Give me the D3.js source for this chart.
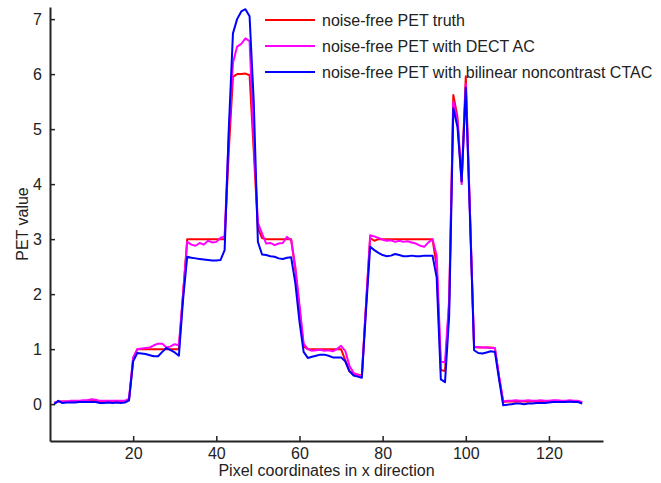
<!DOCTYPE html>
<html>
<head>
<meta charset="utf-8">
<script src="https://cdn.jsdelivr.net/npm/d3@7"></script>
<style>
  html, body { margin: 0; padding: 0; background: #fff; }
  svg { display: block; }
  text { font-family: Arial, "Liberation Sans", sans-serif; fill: #222; }
</style>
</head>
<body>
<svg id="chart" width="661" height="483"></svg>
<script>
// ---- data (pixel index 1..128) ----
const pixels = d3.range(1, 129);

const truth = [
  0.02, 0.05, 0.05, 0.05, 0.05, 0.05, 0.05, 0.05, 0.06, 0.06,
  0.06, 0.05, 0.05, 0.05, 0.05, 0.05, 0.05, 0.05, 0.07, 0.82,
  1.00, 1.00, 1.00, 1.00, 1.00, 1.00, 1.00, 1.00, 1.00, 1.00,
  1.00, 2.00, 3.00, 3.00, 3.00, 3.00, 3.00, 3.00, 3.00, 3.00,
  3.00, 3.00, 4.60, 5.95, 6.00, 6.00, 6.01, 5.98, 4.60, 3.20,
  3.02, 3.00, 3.00, 3.00, 3.00, 3.00, 3.00, 3.00, 2.45, 1.75,
  1.05, 1.00, 1.00, 1.00, 1.00, 1.00, 1.00, 1.00, 1.00, 1.00,
  0.80, 0.60, 0.55, 0.54, 0.52, 1.80, 3.02, 2.97, 3.00, 3.00,
  3.00, 3.00, 3.00, 3.00, 3.00, 3.00, 3.00, 3.00, 3.00, 3.00,
  3.00, 3.00, 2.50, 0.62, 0.60, 1.80, 5.62, 5.22, 4.05, 5.96,
  3.50, 1.04, 1.03, 1.03, 1.03, 1.03, 1.02, 0.50, 0.04, 0.05,
  0.05, 0.05, 0.05, 0.05, 0.05, 0.05, 0.05, 0.05, 0.05, 0.05,
  0.05, 0.05, 0.05, 0.05, 0.05, 0.05, 0.05, 0.03
];

const dect = [
  0.02, 0.05, 0.05, 0.05, 0.06, 0.06, 0.06, 0.07, 0.07, 0.09,
  0.08, 0.06, 0.06, 0.06, 0.06, 0.06, 0.06, 0.06, 0.10, 0.85,
  1.00, 1.01, 1.02, 1.03, 1.07, 1.10, 1.10, 1.03, 1.05, 1.09,
  1.07, 2.00, 2.95, 2.90, 2.88, 2.93, 2.90, 2.97, 2.94, 2.95,
  3.02, 3.05, 4.90, 6.20, 6.50, 6.55, 6.65, 6.60, 4.80, 3.30,
  3.10, 2.92, 2.93, 2.89, 2.92, 2.93, 3.04, 2.98, 2.50, 1.80,
  1.10, 1.00, 0.97, 0.98, 0.99, 0.97, 0.98, 0.96, 1.00, 1.06,
  0.97, 0.70, 0.57, 0.53, 0.52, 1.80, 3.07, 3.05, 3.02, 2.99,
  2.97, 2.98, 2.95, 2.97, 2.95, 2.96, 2.94, 2.92, 2.88, 2.86,
  2.94, 3.00, 2.70, 0.77, 0.76, 1.90, 5.50, 5.15, 4.00, 5.82,
  3.50, 1.04, 1.04, 1.03, 1.03, 1.02, 1.02, 0.50, 0.05, 0.06,
  0.06, 0.07, 0.06, 0.06, 0.07, 0.06, 0.06, 0.07, 0.06, 0.06,
  0.07, 0.07, 0.06, 0.06, 0.07, 0.06, 0.06, 0.04
];

const ctac = [
  0.00, 0.06, 0.02, 0.03, 0.03, 0.03, 0.04, 0.04, 0.04, 0.04,
  0.04, 0.02, 0.02, 0.03, 0.02, 0.03, 0.02, 0.03, 0.07, 0.78,
  0.93, 0.92, 0.91, 0.89, 0.87, 0.87, 0.95, 1.02, 0.98, 0.94,
  0.88, 1.90, 2.68, 2.66, 2.65, 2.64, 2.63, 2.62, 2.61, 2.61,
  2.62, 2.80, 5.00, 6.74, 7.00, 7.14, 7.18, 7.05, 5.50, 2.95,
  2.72, 2.71, 2.69, 2.68, 2.65, 2.64, 2.66, 2.67, 2.20, 1.50,
  0.95, 0.84, 0.86, 0.88, 0.90, 0.90, 0.88, 0.85, 0.85, 0.85,
  0.78, 0.60, 0.52, 0.50, 0.48, 1.70, 2.86, 2.80, 2.75, 2.71,
  2.69, 2.70, 2.73, 2.71, 2.69, 2.69, 2.70, 2.69, 2.69, 2.70,
  2.70, 2.70, 2.30, 0.45, 0.40, 1.60, 5.38, 5.04, 4.05, 5.75,
  3.40, 0.98, 0.93, 0.92, 0.94, 0.96, 0.95, 0.45, -0.02, -0.01,
  0.00, 0.01, 0.01, 0.00, 0.01, 0.01, 0.02, 0.02, 0.02, 0.03,
  0.04, 0.04, 0.04, 0.04, 0.05, 0.04, 0.04, 0.01
];

const seriesNames = [
  "noise-free PET truth",
  "noise-free PET with DECT AC",
  "noise-free PET with bilinear noncontrast CTAC"
];
const seriesColors = ["#ff0000", "#ff00ff", "#0000ff"];
const xTicks = [20, 40, 60, 80, 100, 120];
const yTicks = [0, 1, 2, 3, 4, 5, 6, 7];
const xTitle = "Pixel coordinates in x direction";
const yTitle = "PET value";

// ---- layout ----
const svg = d3.select("#chart");
const mLeft = 50, mRight = 603, mTop = 7, mBottom = 441;

const x = d3.scaleLinear().domain([0, 133]).range([mLeft, mRight]);
const y = d3.scaleLinear().domain([-0.67, 7.22]).range([mBottom, mTop]);

const series = [truth, dect, ctac];
const line = d3.line().x((d, i) => x(pixels[i])).y(d => y(d));

series.forEach((s, k) => {
  svg.append("path")
    .datum(s)
    .attr("d", line)
    .attr("fill", "none")
    .attr("stroke", seriesColors[k])
    .attr("stroke-width", 2)
    .attr("stroke-linejoin", "round");
});

// axes (inward ticks)
const xAxis = d3.axisBottom(x).tickValues(xTicks).tickSizeInner(-5).tickSizeOuter(0).tickPadding(7);
const yAxis = d3.axisLeft(y).tickValues(yTicks).tickSizeInner(-5).tickSizeOuter(0).tickPadding(8);

const gx = svg.append("g").attr("transform", `translate(0,${mBottom})`).call(xAxis);
const gy = svg.append("g").attr("transform", `translate(${mLeft},0)`).call(yAxis);

[gx, gy].forEach(g => {
  g.select(".domain").attr("stroke", "#222").attr("stroke-width", 2);
  g.selectAll(".tick line").attr("stroke", "#222").attr("stroke-width", 1.5);
  g.selectAll(".tick text").attr("font-size", 16).attr("font-family", "Arial, 'Liberation Sans', sans-serif").attr("fill", "#222");
});

svg.append("text")
  .attr("x", (mLeft + mRight) / 2)
  .attr("y", 476)
  .attr("text-anchor", "middle")
  .attr("font-size", 16)
  .text(xTitle);

svg.append("text")
  .attr("transform", `translate(28,${(mTop + mBottom) / 2}) rotate(-90)`)
  .attr("text-anchor", "middle")
  .attr("font-size", 16)
  .text(yTitle);

// legend
const legY = [20, 46, 72];
seriesNames.forEach((name, k) => {
  svg.append("line")
    .attr("x1", 265).attr("x2", 315)
    .attr("y1", legY[k]).attr("y2", legY[k])
    .attr("stroke", seriesColors[k]).attr("stroke-width", 2);
  svg.append("text")
    .attr("x", 322).attr("y", legY[k])
    .attr("dy", "0.35em")
    .attr("font-size", 16)
    .text(name);
});
</script>
</body>
</html>
